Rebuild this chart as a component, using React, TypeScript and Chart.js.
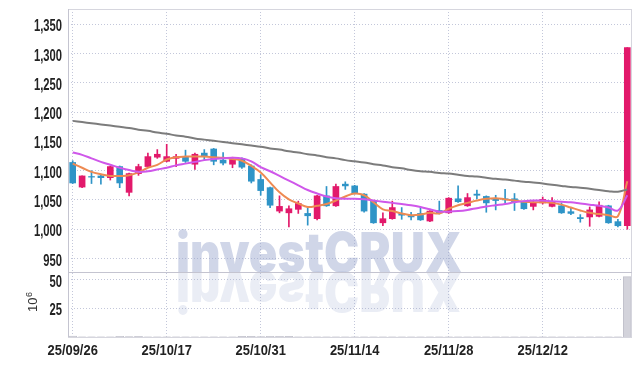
import React, { useEffect, useRef } from 'react';
import { Chart, registerables } from 'chart.js';
Chart.register(...registerables);

const dates = [
  '25/09/26','25/09/29','25/09/30','25/10/01','25/10/02','25/10/10','25/10/13','25/10/14','25/10/15','25/10/16',
  '25/10/17','25/10/20','25/10/21','25/10/22','25/10/23','25/10/24','25/10/27','25/10/28','25/10/29','25/10/30',
  '25/10/31','25/11/03','25/11/04','25/11/05','25/11/06','25/11/07','25/11/10','25/11/11','25/11/12','25/11/13',
  '25/11/14','25/11/17','25/11/18','25/11/19','25/11/20','25/11/21','25/11/24','25/11/25','25/11/26','25/11/27',
  '25/11/28','25/12/01','25/12/02','25/12/03','25/12/04','25/12/05','25/12/08','25/12/09','25/12/10','25/12/11',
  '25/12/12','25/12/15','25/12/16','25/12/17','25/12/18','25/12/19','25/12/22','25/12/23','25/12/24','25/12/26',
];

const opens = [
  1114,1072,1090,1091,1088,1107,1063,1095,1107,1123,
  1116,1121,1124,1111,1130,1137,1118,1111,1121,1108,
  1085,1071,1031,1028,1034,1027,1018,1057,1040,1077,
  1074,1060,1048,1011,1018,1027,1024,1027,1014,1032,
  1028,1052,1040,1060,1056,1052,1052,1052,1047,1039,
  1045,1039,1040,1030,1020,1021,1022,1040,1013,1006,
];
const highs = [
  1117,1091,1100,1092,1108,1108,1096,1111,1130,1136,
  1145,1128,1135,1130,1136,1138,1131,1123,1122,1110,
  1093,1072,1057,1040,1048,1038,1058,1073,1077,1081,
  1075,1061,1049,1028,1048,1037,1029,1037,1032,1048,
  1054,1074,1061,1067,1057,1058,1068,1061,1048,1049,
  1055,1054,1045,1036,1025,1038,1047,1041,1017,1310,
];
const lows = [
  1078,1071,1078,1077,1084,1071,1057,1092,1106,1121,
  1115,1107,1114,1102,1119,1110,1110,1105,1104,1079,
  1058,1037,1028,1004,1027,1007,1016,1039,1039,1068,
  1060,1029,1010,1006,1017,1017,1016,1015,1013,1026,
  1027,1046,1039,1052,1029,1033,1045,1032,1034,1033,
  1043,1038,1027,1025,1012,1005,1021,1010,1004,1000,
];
const closes = [
  1079,1091,1089,1088,1107,1079,1095,1107,1124,1128,
  1124,1124,1116,1128,1125,1116,1113,1119,1106,1082,
  1066,1041,1039,1035,1044,1023,1057,1040,1073,1074,
  1061,1031,1011,1018,1037,1024,1021,1016,1031,1028,
  1053,1047,1054,1058,1045,1049,1050,1047,1035,1046,
  1051,1046,1028,1027,1018,1033,1041,1011,1006,1310,
];
const volumes = [
  0.7,0.1,0.1,0.1,0.1,0.6,0.3,0.6,0.1,0.1,
  0.1,0.1,0.1,0.1,0.1,0.1,0.1,0.1,0.5,0.5,
  0.3,0.6,0.6,0.5,0.1,0.1,0.1,0.1,0.1,0.1,
  0.1,0.1,0.1,0.1,0.1,0.1,0.1,0.1,0.1,0.1,
  0.1,0.1,0.1,0.1,0.1,0.1,0.1,0.1,0.1,0.1,
  0.1,0.1,0.1,0.1,0.1,0.1,0.1,0.1,0.1,53,
];
const ma5 = [
  1112,1105,1098,1094,1091,1091,1092,1097,1105,1110,
  1119,1123,1124,1124,1124,1123,1122,1120,1117,1108,
  1097,1080,1063,1051,1044,1038,1040,1043,1049,1056,
  1061,1058,1046,1034,1031,1027,1024,1025,1028,1027,
  1035,1041,1045,1049,1052,1053,1051,1049,1047,1046,
  1046,1045,1042,1037,1032,1028,1026,1024,1022,1082,
];
const ma10 = [
  1131,1127,1121,1115,1110,1105,1101,1098,1099,1102,
  1105,1109,1112,1115,1118,1120,1121,1122,1121,1116,
  1106,1099,1091,1083,1075,1067,1061,1056,1053,1052,
  1052,1051,1049,1047,1045,1043,1041,1038,1034,1030,
  1030,1031,1033,1036,1039,1041,1043,1046,1048,1049,
  1049,1048,1047,1046,1044,1042,1040,1037,1032,1058,
];
const ma60 = [
  1185,1183,1181,1179,1177,1175,1173,1170,1168,1165,
  1163,1160,1158,1155,1153,1151,1149,1147,1145,1143,
  1141,1138,1136,1133,1131,1128,1126,1123,1121,1118,
  1116,1114,1111,1109,1106,1104,1101,1099,1098,1096,
  1095,1093,1091,1090,1088,1086,1085,1083,1081,1080,
  1078,1076,1074,1072,1071,1069,1067,1065,1064,1068,
];
const priceTicks = [950, 1000, 1050, 1100, 1150, 1200, 1250, 1300, 1350];
const volumeTicks = [25, 50];

const UP = '#e2196b';
const DOWN = '#2f94c7';
const GRID = '#c3c7da';
const LABEL_FONT = 'bold 16px "Liberation Sans", Arial, sans-serif';

function drawCondensed(ctx: CanvasRenderingContext2D, text: string, x: number, y: number, sx: number, align: CanvasTextAlign) {
  ctx.save();
  ctx.translate(x, y);
  ctx.scale(sx, 1);
  ctx.textAlign = align;
  ctx.textBaseline = 'alphabetic';
  ctx.fillText(text, 0, 0);
  ctx.restore();
}

export default function App() {
  const ref = useRef<HTMLCanvasElement | null>(null);
  useEffect(() => {
    if (!ref.current) return;
    const colors = opens.map((o, i) => (closes[i] >= o ? UP : DOWN));

    const framePlugin = {
      id: 'frame',
      beforeDatasetsDraw(chart: any) {
        const { ctx } = chart;
        const ys = chart.scales.y;
        ctx.save();
        ctx.font = '900 55px Inter, "Open Sans", Roboto, "DejaVu Sans", sans-serif';
        const text = 'investCRUX';
        const w = ctx.measureText(text).width;
        ctx.translate(176, ys.bottom);
        ctx.scale(286 / w, 1);
        ctx.textBaseline = 'alphabetic';
        ctx.fillStyle = 'rgba(150,163,203,0.45)';
        ctx.fillText(text, 0, 0);
        ctx.scale(1, -1);
        ctx.fillStyle = 'rgba(150,163,203,0.2)';
        ctx.fillText(text, 0, 0);
        ctx.restore();
      },
      afterDraw(chart: any) {
        const { ctx, chartArea } = chart;
        const ys = chart.scales.y;
        const yv = chart.scales.yv;
        const xs = chart.scales.x;
        ctx.save();
        ctx.lineWidth = 1;
        ctx.strokeStyle = '#d6d6de';
        ctx.beginPath();
        ctx.moveTo(chartArea.left, chartArea.top + 0.5);
        ctx.lineTo(chartArea.right, chartArea.top + 0.5);
        ctx.moveTo(chartArea.right - 0.5, chartArea.top);
        ctx.lineTo(chartArea.right - 0.5, chartArea.bottom);
        ctx.moveTo(chartArea.left, chartArea.bottom + 0.5);
        ctx.lineTo(chartArea.right, chartArea.bottom + 0.5);
        ctx.stroke();
        ctx.strokeStyle = '#c4c4d0';
        ctx.beginPath();
        ctx.moveTo(chartArea.left, Math.round(ys.bottom) + 0.5);
        ctx.lineTo(chartArea.right, Math.round(ys.bottom) + 0.5);
        ctx.moveTo(chartArea.left + 0.5, chartArea.top);
        ctx.lineTo(chartArea.left + 0.5, chartArea.bottom);
        ctx.stroke();

        // tick labels (condensed)
        ctx.fillStyle = '#222';
        ctx.font = LABEL_FONT;
        for (const v of priceTicks) {
          drawCondensed(ctx, v.toLocaleString('en-US'), 62, ys.getPixelForValue(v) + 7, 0.7, 'right');
        }
        for (const v of volumeTicks) {
          drawCondensed(ctx, String(v), 62, yv.getPixelForValue(v) + 7, 0.7, 'right');
        }
        ctx.font = 'bold 15px "Liberation Sans", Arial, sans-serif';
        for (const t of xs.ticks) {
          drawCondensed(ctx, dates[t.value], xs.getPixelForValue(t.value), 354.5, 0.86, 'center');
        }

        // volume unit title
        ctx.fillStyle = '#333';
        ctx.translate(37, 312);
        ctx.rotate(-Math.PI / 2);
        ctx.textBaseline = 'alphabetic';
        ctx.textAlign = 'left';
        ctx.font = '13px "Liberation Sans", Arial, sans-serif';
        ctx.fillText('10', 0, 0);
        const tw = ctx.measureText('10').width;
        ctx.font = '9px "Liberation Sans", Arial, sans-serif';
        ctx.fillText('6', tw + 0.5, -5);
        ctx.restore();
      },
    };

    const chart = new Chart(ref.current, {
      type: 'bar',
      data: {
        labels: dates,
        datasets: [
          { type: 'line', data: ma60, borderColor: '#7c7c7c', borderWidth: 2, pointRadius: 0, tension: 0.4, yAxisID: 'y', order: 0 } as any,
          { type: 'line', data: ma10, borderColor: '#cf57ea', borderWidth: 2, pointRadius: 0, tension: 0.4, yAxisID: 'y', order: 0 } as any,
          { type: 'line', data: ma5, borderColor: '#ee8a52', borderWidth: 2, pointRadius: 0, tension: 0.4, yAxisID: 'y', order: 0 } as any,
          {
            type: 'bar', data: opens.map((o, i) => [o, closes[i]]), backgroundColor: colors, borderWidth: 0,
            barThickness: 6, grouped: false, yAxisID: 'y', order: 1,
          } as any,
          {
            type: 'bar', data: lows.map((l, i) => [l, highs[i]]), backgroundColor: colors, borderWidth: 0,
            barThickness: 1, grouped: false, yAxisID: 'y', order: 2,
          } as any,
          {
            type: 'bar', data: volumes, backgroundColor: '#d3d3db', borderColor: '#c2c2cc', borderWidth: 1,
            barThickness: 8, grouped: false, yAxisID: 'yv', order: 3,
          } as any,
        ],
      },
      options: {
        animation: false,
        responsive: false,
        layout: { padding: { top: 9, right: 10, left: 0, bottom: 0 } },
        plugins: { legend: { display: false }, tooltip: { enabled: false } },
        scales: {
          x: {
            type: 'category',
            offset: true,
            afterBuildTicks: (s: any) => { s.ticks = s.ticks.filter((t: any) => t.value % 10 === 0); },
            afterFit: (s: any) => { s.height = 29; },
            ticks: { display: false, autoSkip: false },
            grid: { offset: false, color: GRID, drawTicks: false },
            border: { display: false, dash: [1, 2] },
          },
          yv: {
            position: 'left', stack: 'main', stackWeight: 65, weight: 1,
            min: 0, max: 57,
            afterBuildTicks: (s: any) => { s.ticks = volumeTicks.map((v) => ({ value: v })); },
            afterFit: (s: any) => { s.width = 68; },
            ticks: { display: false, autoSkip: false },
            grid: { color: GRID, drawTicks: false },
            border: { display: false, dash: [1, 2] },
          },
          y: {
            position: 'left', stack: 'main', stackWeight: 263, weight: 2,
            min: 927, max: 1376,
            afterBuildTicks: (s: any) => { s.ticks = priceTicks.map((v) => ({ value: v })); },
            afterFit: (s: any) => { s.width = 68; },
            ticks: { display: false, autoSkip: false },
            grid: { color: GRID, drawTicks: false },
            border: { display: false, dash: [1, 2] },
          },
        } as any,
      },
      plugins: [framePlugin],
    } as any);
    return () => chart.destroy();
  }, []);

  return (
    <div style={{ position: 'absolute', left: 0, top: 0, width: 642, height: 366, background: '#fff' }}>
      <canvas ref={ref} width={642} height={366} style={{ display: 'block' }} />
    </div>
  );
}
